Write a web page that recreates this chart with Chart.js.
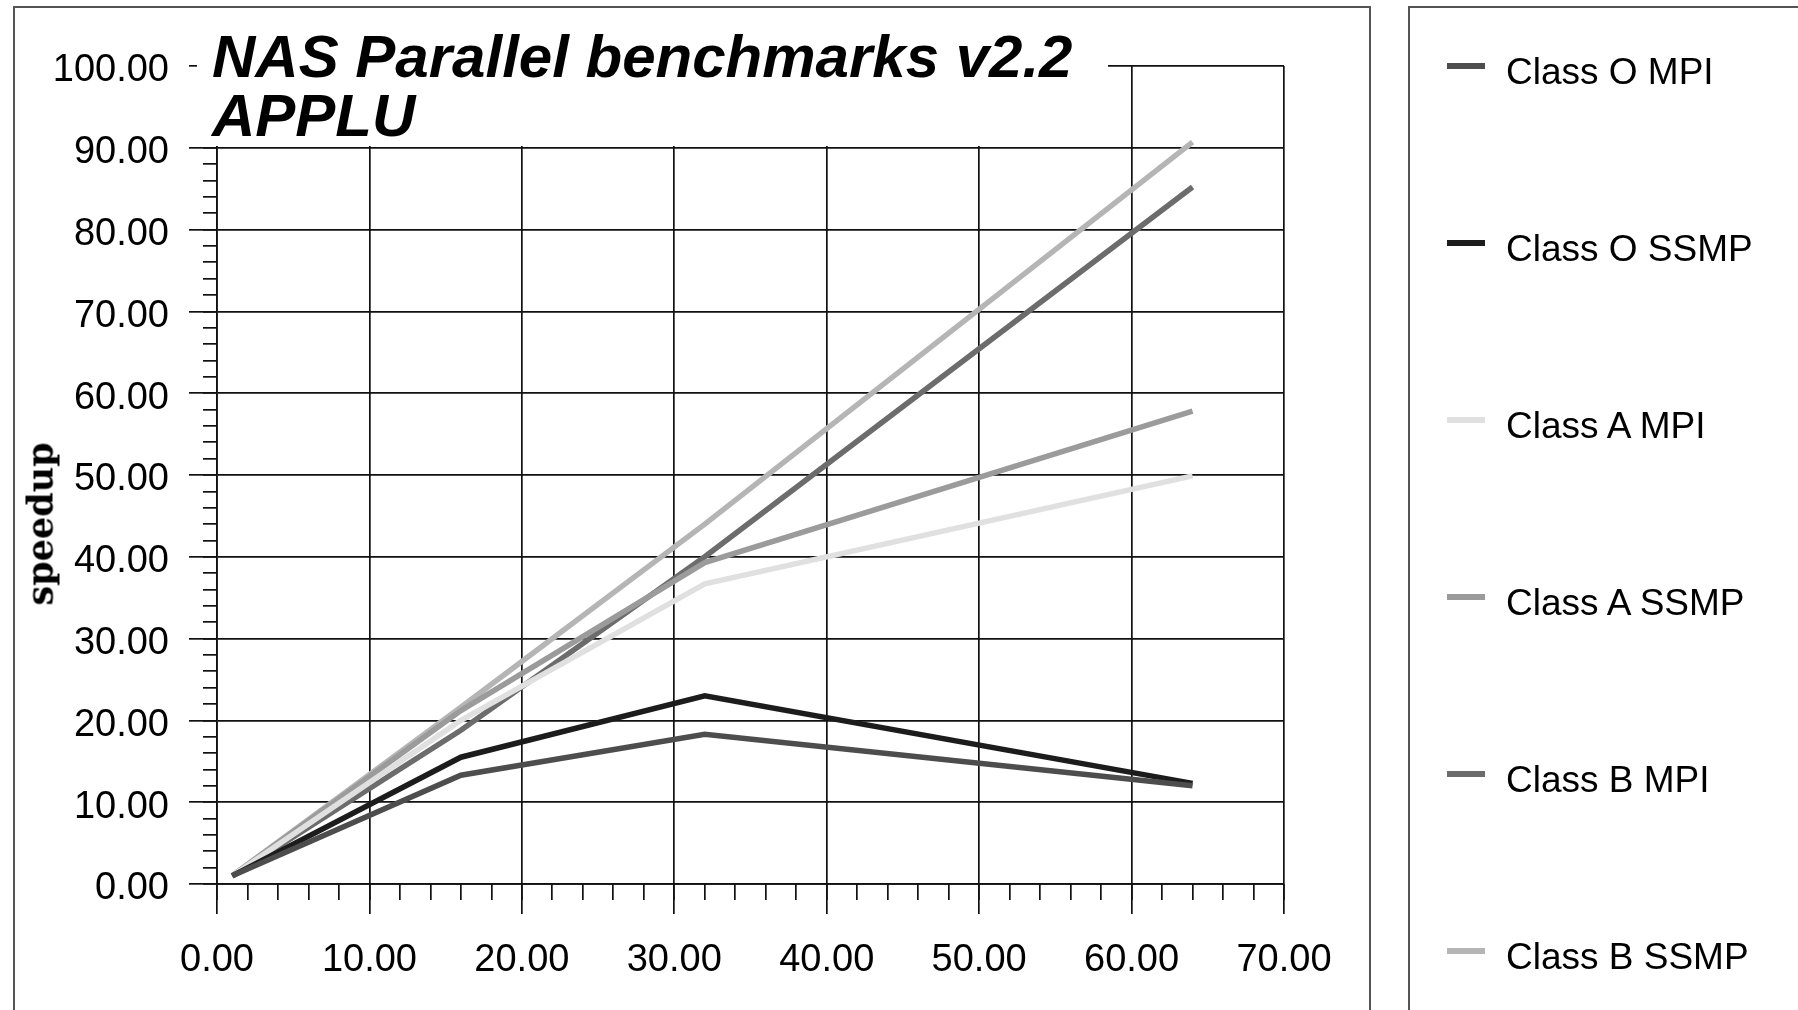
<!DOCTYPE html>
<html>
<head>
<meta charset="utf-8">
<title>NAS Parallel benchmarks v2.2 APPLU</title>
<script src="https://cdn.jsdelivr.net/npm/chart.js@4.4.1/dist/chart.umd.min.js"></script>
<style>
  html, body { margin: 0; padding: 0; background: #fff; }
  #page { position: relative; width: 1798px; height: 1010px; overflow: hidden; }
  .panel { position: absolute; border: 2px solid #555; box-sizing: border-box; }
  #plotPanel { left: 13px; top: 6px; width: 1358px; height: 1100px; }
  #legendPanel { left: 1408px; top: 6px; width: 500px; height: 1100px; }
  #chart { position: absolute; left: 0; top: 0; }
  #chartTitle {
    position: absolute; left: 197px; top: 27px; width: 896px; height: 119px;
    padding-left: 15px; background: #fff; color: #000;
    font: italic bold 60px/59px "Liberation Sans", Arial, sans-serif; white-space: nowrap;
  }
  #yTitle {
    position: absolute; left: 40px; top: 524px; transform: translate(-50%, -50%) rotate(-90deg);
    font: bold 35px "DejaVu Serif", serif; color: #000; white-space: nowrap;
  }
  .legSwatch { position: absolute; left: 1447px; width: 38px; height: 6px; }
  .legText { position: absolute; left: 1506px; font: 37px/44px "Liberation Sans", Arial, sans-serif; color: #000; white-space: nowrap; }
</style>
</head>
<body>
<div id="page">
  <div class="panel" id="plotPanel"></div>
  <div class="panel" id="legendPanel"></div>
  <canvas id="chart" width="1798" height="1010"></canvas>
  <div id="chartTitle">NAS Parallel benchmarks v2.2<br>APPLU</div>
  <div id="yTitle">speedup</div>
  <div id="legend"></div>
</div>
<script>
// number of processors (x) and speedup per series (y)
const processors = [1, 16, 32, 64];
const seriesLabels = ['Class O MPI', 'Class O SSMP', 'Class A MPI', 'Class A SSMP', 'Class B MPI', 'Class B SSMP'];
const classOMpi  = [1, 13.3, 18.3, 12.0];
const classOSsmp = [1, 15.5, 23.0, 12.3];
const classAMpi  = [1, 20.0, 36.7, 49.9];
const classASsmp = [1, 21.2, 39.3, 57.8];
const classBMpi  = [1, 18.8, 40.0, 85.2];
const classBSsmp = [1, 21.6, 44.0, 90.7];
const seriesColors = ['#4d4d4d', '#1c1c1c', '#e0e0e0', '#9b9b9b', '#6c6c6c', '#b5b5b5'];

const xRange = [0, 70];
const yRange = [0, 100];

const allSeries = [classOMpi, classOSsmp, classAMpi, classASsmp, classBMpi, classBSsmp];

const tickFont = { family: '"Liberation Sans", Arial, sans-serif', size: 38 };
const gridColor = '#111';

const datasets = allSeries.map((values, i) => ({
  label: seriesLabels[i],
  data: processors.map((p, j) => ({ x: p, y: values[j] })),
  borderColor: seriesColors[i],
  backgroundColor: seriesColors[i],
  borderWidth: 5.5,
  pointRadius: 0,
  tension: 0,
  fill: false,
}));

const fmt = v => Number(v).toFixed(2);

const chart = new Chart(document.getElementById('chart'), {
  type: 'line',
  data: { datasets },
  options: {
    responsive: false,
    devicePixelRatio: 1,
    animation: false,
    layout: { padding: { left: 0, top: 66, right: 1798 - 1284, bottom: 0 } },
    plugins: { legend: { display: false }, tooltip: { enabled: false } },
    scales: {
      x: {
        type: 'linear', position: 'bottom', weight: 1,
        min: xRange[0], max: xRange[1],
        ticks: { stepSize: 10, callback: fmt, font: tickFont, color: '#000', padding: 24, maxRotation: 0, autoSkip: false },
        grid: { color: gridColor, lineWidth: 1.7, tickLength: 30, tickColor: gridColor },
        border: { color: gridColor, width: 1.7 },
        afterFit: s => { s.height = 126; s.paddingLeft = 0; s.paddingRight = 0; },
      },
      xMinor: {
        type: 'linear', position: 'bottom', weight: 0,
        min: xRange[0], max: xRange[1],
        ticks: { stepSize: 2, display: false },
        grid: { drawOnChartArea: false, tickLength: 16, color: gridColor, lineWidth: 1.7 },
        border: { display: false },
        afterFit: s => { s.height = 0; s.paddingLeft = 0; s.paddingRight = 0; },
      },
      y: {
        type: 'linear', position: 'left', weight: 1,
        min: yRange[0], max: yRange[1],
        ticks: { stepSize: 10, callback: fmt, font: tickFont, color: '#000', padding: 20, labelOffset: 5 },
        grid: { color: gridColor, lineWidth: 1.7, tickLength: 28, tickColor: gridColor },
        border: { color: gridColor, width: 1.7 },
        afterFit: s => { s.width = 217; s.paddingTop = 0; s.paddingBottom = 0; },
      },
      yMinor: {
        type: 'linear', position: 'left', weight: 0,
        min: yRange[0], max: yRange[1],
        ticks: { stepSize: 2, display: false },
        grid: { drawOnChartArea: false, tickLength: 14, color: gridColor, lineWidth: 1.7 },
        border: { display: false },
        afterFit: s => { s.width = 0; s.paddingTop = 0; s.paddingBottom = 0; },
      },
    },
  },
});

// legend panel built from the chart's datasets
const legend = document.getElementById('legend');
chart.data.datasets.forEach((ds, i) => {
  const sw = document.createElement('div');
  sw.className = 'legSwatch';
  sw.style.top = (63 + 177 * i) + 'px';
  sw.style.background = ds.borderColor;
  legend.appendChild(sw);

  const txt = document.createElement('div');
  txt.className = 'legText';
  txt.style.top = (50 + 177 * i) + 'px';
  txt.textContent = ds.label;
  legend.appendChild(txt);
});
</script>
</body>
</html>
